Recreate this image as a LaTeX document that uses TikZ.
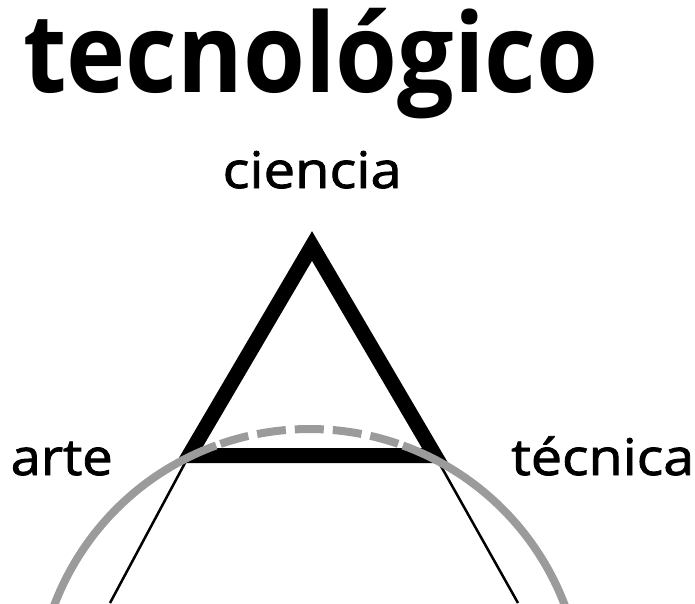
\documentclass[tikz,border=0pt]{standalone}
\usepackage{graphicx}
\usepackage{fontspec}
\setmainfont{Open Sans}
\newfontfamily\lblfont{Open Sans}[FakeBold=1.6]
\definecolor{circgray}{RGB}{155,155,155}
\tikzset{
  lbl/.style={inner sep=0pt, anchor=base west, font=\lblfont\fontsize{50.5}{60}\selectfont},
  ttl/.style={inner sep=0pt, anchor=base west, font=\fontsize{110}{120}\selectfont\bfseries},
  tri/.style={line width=15pt, line join=miter},
  thinline/.style={line width=2.5pt},
  circ/.style={draw=circgray, line width=8pt},
  circdash/.style={circ, dash pattern=on 29pt off 9pt, dash phase=33pt}
}
\begin{document}
\begin{tikzpicture}[x=1pt,y=1pt]
\clip (0,0) rectangle (695,-603);
\node[ttl] (title) at (23,-92) {\resizebox{575pt}{\height}{tecnológico}};
\node[lbl] (ciencia) at (222.5,-188) {\resizebox{179pt}{\height}{ciencia}};
\node[lbl] (arte) at (10.5,-475) {\resizebox{102pt}{\height}{arte}};
\node[lbl] (tecnica) at (511,-475) {\resizebox{183pt}{\height}{técnica}};
\coordinate (A) at (312,-246);
\coordinate (B) at (189,-455.5);
\coordinate (C) at (435,-455.5);
\coordinate (Lend) at (110,-603);
\coordinate (Rend) at (518,-603);
\draw[thinline] (B) -- (Lend);
\draw[thinline] (C) -- (Rend);
\draw[tri] (A) -- (B) -- (C) -- cycle;
\coordinate (O) at (309.5,-702);
\draw[circ] (O) ++(110:273) arc[start angle=110, end angle=430, radius=273];
\draw[circdash] (O) ++(70:273) arc[start angle=70, end angle=110, radius=273];
\end{tikzpicture}
\end{document}
